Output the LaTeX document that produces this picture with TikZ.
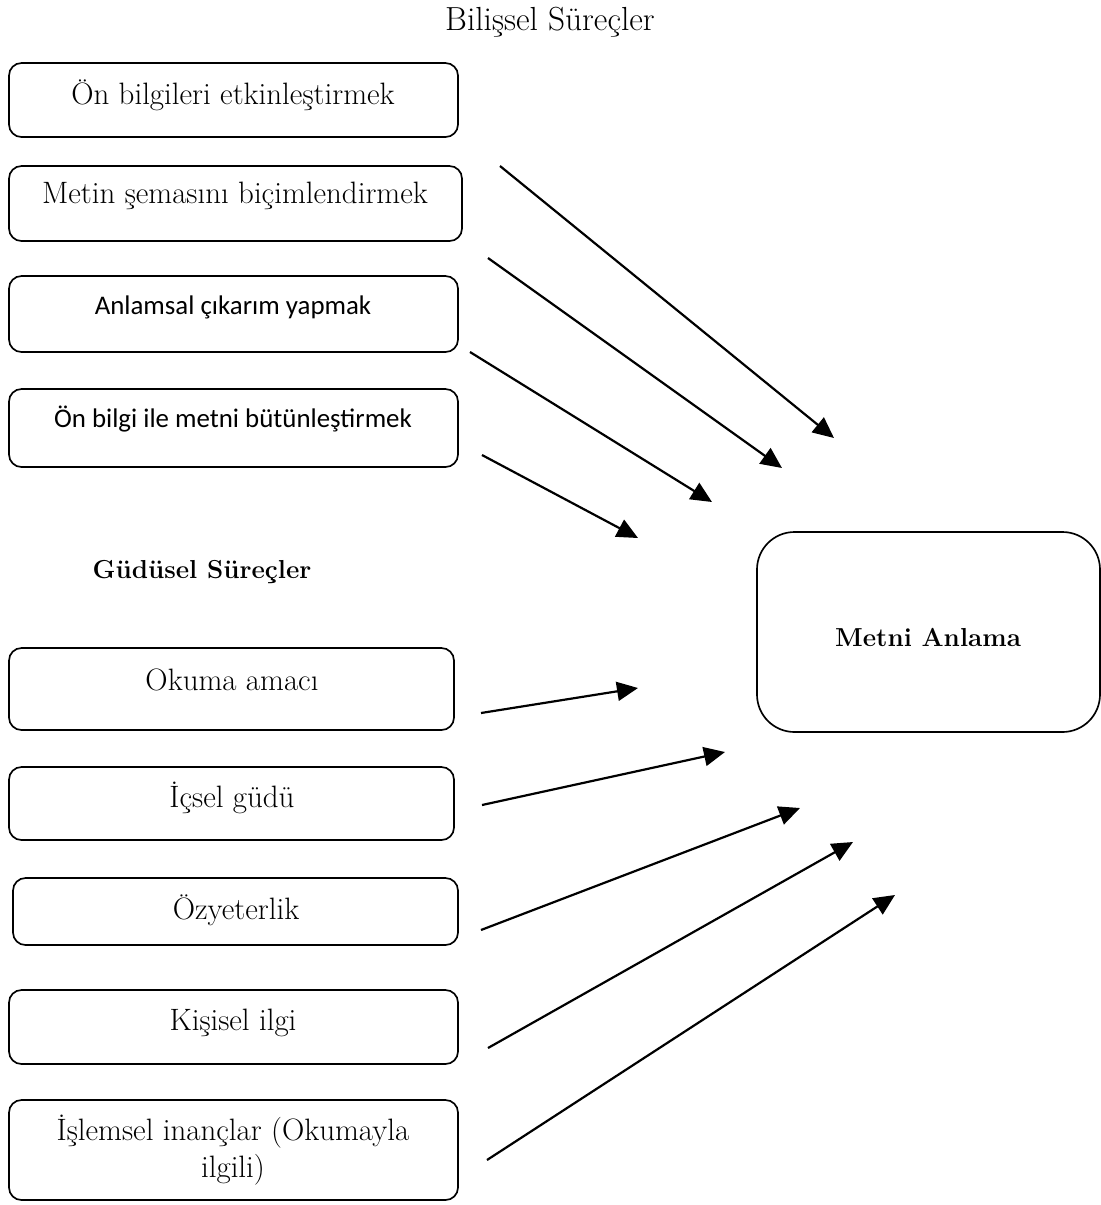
\documentclass[tikz,border=0pt]{standalone}
\usepackage{fontspec}
\newfontfamily\calibri{Carlito}
\usetikzlibrary{arrows.meta,fit}
\begin{document}
\begin{tikzpicture}[x=0.02cm,y=-0.02cm,
  box/.style={draw,line width=0.95pt,rounded corners=0.25cm,inner sep=0pt},
  bigbox/.style={draw,line width=0.95pt,rounded corners=0.75cm,inner sep=0pt},
  lbl/.style={inner sep=0pt,font=\fontsize{17.6}{21}\selectfont,align=center},
  slbl/.style={inner sep=0pt,font=\calibri\fontsize{15.3}{18}\selectfont},
  head/.style={inner sep=0pt,font=\bfseries\fontsize{14.8}{18}\selectfont},
  conn/.style={line width=1.25pt,-{Triangle[length=0.42cm,width=0.38cm]}}]
\useasboundingbox (0,0) rectangle (1101,1205);

\node[inner sep=0pt,font=\fontsize{19}{23}\selectfont] (title) at (550,22) {Bilişsel Süreçler};

\node[box,fit={(9,63) (458,137)}] (b1) {};
\node[lbl] (t1) at (233,95) {Ön bilgileri etkinleştirmek};
\node[box,fit={(9,166) (462,241)}] (b2) {};
\node[lbl] (t2) at (235,196) {Metin şemasını biçimlendirmek};
\node[box,fit={(9,276) (458,352)}] (b3) {};
\node[slbl] (t3) at (233,307) {Anlamsal çıkarım yapmak};
\node[box,fit={(9,389) (458,467)}] (b4) {};
\node[slbl] (t4) at (233,419) {Ön bilgi ile metni bütünleştirmek};

\node[head] (h2) at (202,572) {Güdüsel Süreçler};

\node[box,fit={(9,648) (454,730)}] (b5) {};
\node[lbl] (t5) at (232,680) {Okuma amacı};
\node[box,fit={(9,767) (454,840)}] (b6) {};
\node[lbl] (t6) at (232,798) {İçsel güdü};
\node[box,fit={(13,878) (458,945)}] (b7) {};
\node[lbl] (t7) at (236,910) {Özyeterlik};
\node[box,fit={(9,990) (458,1064)}] (b8) {};
\node[lbl] (t8) at (233,1023) {Kişisel ilgi};
\node[box,fit={(9,1100) (458,1200)}] (b9) {};
\node[lbl] (t9) at (233,1150) {İşlemsel inançlar (Okumayla\\ ilgili)};

\node[bigbox,fit={(757,532) (1100,732)}] (m) {};
\node[head] (mt) at (928,637) {Metni Anlama};

\coordinate (s1) at (500,166); \coordinate (e1) at (834,438);
\coordinate (s2) at (488,258); \coordinate (e2) at (782,468);
\coordinate (s3) at (470,352); \coordinate (e3) at (712,502);
\coordinate (s4) at (482,455); \coordinate (e4) at (638,538);
\coordinate (s5) at (481,713); \coordinate (e5) at (638,688);
\coordinate (s6) at (482,805); \coordinate (e6) at (725,752);
\coordinate (s7) at (481,930); \coordinate (e7) at (800,808);
\coordinate (s8) at (488,1048); \coordinate (e8) at (853,842);
\coordinate (s9) at (487,1160); \coordinate (e9) at (895,895);
\foreach \i in {1,...,9} { \draw[conn] (s\i) -- (e\i); }
\end{tikzpicture}
\end{document}
